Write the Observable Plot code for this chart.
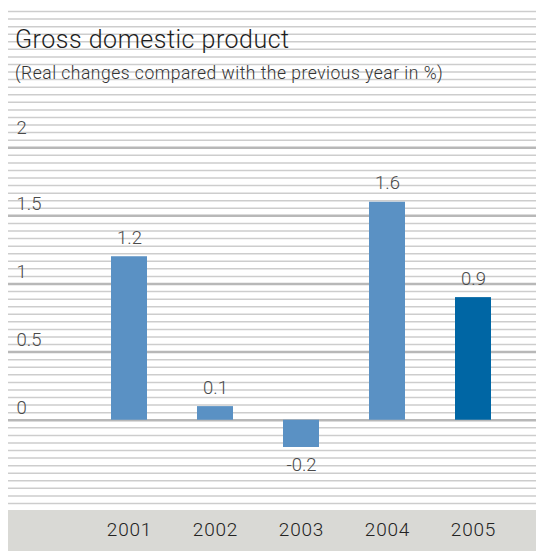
<!DOCTYPE html>
<html>
<head>
<meta charset="utf-8">
<script src="https://cdn.jsdelivr.net/npm/d3@7"></script>
<script src="https://cdn.jsdelivr.net/npm/@observablehq/plot@0.6"></script>
<style>
  html, body { margin: 0; padding: 0; background: #fff; }
  #wrap { position: relative; width: 536px; height: 551px; overflow: hidden; font-family: Roboto, "Open Sans", sans-serif; }
  #band { position: absolute; left: 8px; top: 510px; width: 528px; height: 41px; background: #d9d9d5; }
  #chart { position: absolute; left: 0; top: 0; }
  #title { position: absolute; left: 15px; top: 26px; font-size: 25px; letter-spacing: 0.5px; font-weight: 300; color: #1e1e1e; line-height: 28px; white-space: nowrap; }
  #subtitle { position: absolute; left: 15px; top: 63px; font-size: 17.5px; letter-spacing: 0.5px; font-weight: 300; color: #333; line-height: 20px; white-space: nowrap; }
</style>
</head>
<body>
<div id="wrap">
  <div id="band"></div>
  <div id="chart"></div>
  <div id="title">Gross domestic product</div>
  <div id="subtitle">(Real changes compared with the previous year in %)</div>
</div>
<script>
const years = ["2001", "2002", "2003", "2004", "2005"];
const values = [1.2, 0.1, -0.2, 1.6, 0.9];
const labels = ["1.2", "0.1", "-0.2", "1.6", "0.9"];
const highlight = ["2005"];
const yTicks = [0, 0.5, 1, 1.5, 2];
const yTickLabels = ["0", "0.5", "1", "1.5", "2"];
// decorative ruled background: every 1/18 unit from -11/18 to 54/18
const ruleSteps = d3.range(-11, 55);

const data = years.map((y, i) => ({year: y, value: values[i], label: labels[i], hi: highlight.includes(y)}));
const minor = ruleSteps.map(k => k / 18).filter(v => !yTicks.some(t => Math.abs(t - v) < 1e-9));
const ticks = yTicks.map((t, i) => ({t, label: yTickLabels[i]}));
const topTick = yTicks[yTicks.length - 1];

const labelStyle = {fontSize: 18.5, fontWeight: 300, fill: "#4a4a4a"};

const chart = Plot.plot({
  width: 536,
  height: 551,
  marginLeft: 8,
  marginRight: 0,
  marginTop: 11,
  marginBottom: 48,
  style: {background: "transparent", fontFamily: "Roboto, 'Open Sans', sans-serif"},
  x: {domain: years, range: [84.5, 517], paddingInner: 0.584, paddingOuter: 0.292, tickSize: 0, tickPadding: 19, label: null},
  y: {domain: [-11 / 18, 3], axis: null},
  marks: [
    Plot.ruleY(minor, {stroke: "#cdcdcd", strokeWidth: 1.5}),
    Plot.ruleY(yTicks, {stroke: "#b8b8b8", strokeWidth: 2.5}),
    Plot.barY(data, {x: "year", y: "value", fill: d => d.hi ? "#0066a4" : "#5a91c4"}),
    Plot.text(data.filter(d => d.value >= 0), {x: "year", y: "value", text: "label", lineAnchor: "bottom", dy: -13, ...labelStyle}),
    Plot.text(data.filter(d => d.value < 0), {x: "year", y: "value", text: "label", lineAnchor: "top", dy: 10, ...labelStyle}),
    Plot.text(ticks.filter(d => d.t !== topTick), {y: "t", text: "label", frameAnchor: "left", textAnchor: "start", lineAnchor: "bottom", dx: 8, dy: -6, ...labelStyle}),
    Plot.text(ticks.filter(d => d.t === topTick), {y: "t", text: "label", frameAnchor: "left", textAnchor: "start", lineAnchor: "bottom", dx: 8, dy: -14, ...labelStyle})
  ]
});
chart.style.overflow = "visible";
document.getElementById("chart").appendChild(chart);
chart.querySelectorAll("g[aria-label^='x-axis']").forEach(g => { g.setAttribute("font-size", "19"); g.setAttribute("fill", "#222"); g.setAttribute("font-weight", "300"); g.style.letterSpacing = "0.8px"; });
chart.querySelectorAll("g[aria-label^='x-axis'] text").forEach(t => { t.setAttribute("font-size", "19"); t.setAttribute("fill", "#222"); });
</script>
</body>
</html>
